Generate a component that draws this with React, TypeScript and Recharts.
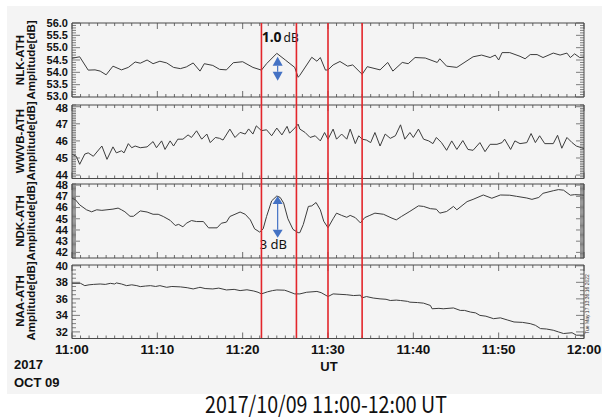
import React from 'react';
import { LineChart, Line, XAxis, YAxis, ReferenceLine } from 'recharts';

// NLK-ATH (minutes after 11:00 UT, amplitude dB)
const nlkMin = [0, 0.9, 1.9, 2.7, 3.3, 4.0, 4.8, 5.8, 6.6, 7.4, 8.0, 8.8, 9.5, 10.3, 11.1, 11.9, 12.7, 13.4, 14.2, 15.0, 15.5, 16.5, 17.3, 18.1, 18.9, 20.0, 21.2, 22.2, 22.8, 24.0, 25.0, 26.1, 26.5, 26.7, 28.1, 28.7, 29.1, 29.7, 30.0, 30.6, 31.4, 32.3, 32.9, 34.0, 34.6, 36.1, 37.0, 37.6, 38.7, 39.4, 40.2, 41.4, 42.8, 43.1, 43.9, 45.1, 47.0, 48.0, 49.0, 49.6, 50.0, 50.4, 51.3, 52.5, 53.1, 53.7, 54.5, 55.2, 56.4, 57.2, 58.0, 58.4, 58.9, 59.5, 60.0];
const nlkDb = [54.57, 54.63, 54.09, 54.1, 54.05, 53.9, 54.25, 54.1, 54.2, 54.42, 54.37, 54.5, 54.35, 54.45, 54.38, 54.2, 54.15, 54.22, 54.38, 54.05, 54.35, 54.28, 54.12, 54.1, 54.39, 54.43, 54.2, 54.09, 54.35, 54.77, 54.5, 54.2, 53.8, 53.88, 54.61, 54.45, 54.6, 54.09, 54.1, 54.3, 54.44, 54.25, 54.3, 53.92, 54.23, 54.1, 54.4, 54.05, 54.4, 54.35, 54.6, 54.58, 54.4, 54.55, 54.25, 54.2, 54.63, 54.7, 54.6, 54.7, 54.5, 54.8, 54.8, 54.65, 54.55, 54.72, 54.72, 54.6, 54.78, 54.7, 54.78, 54.6, 54.75, 54.6, 54.62];

// WWVB-ATH
const wwvbMin = [0, 0.5, 0.9, 1.5, 1.9, 2.5, 3.5, 4.1, 4.8, 5.2, 5.8, 6.1, 6.6, 7.0, 7.4, 8.0, 8.8, 9.5, 9.9, 10.5, 10.9, 11.5, 11.9, 12.4, 13.0, 13.6, 14.0, 14.6, 15.2, 15.8, 16.2, 16.8, 17.3, 17.7, 18.5, 19.1, 19.7, 20.3, 20.7, 21.2, 21.6, 22.2, 22.8, 23.4, 24.0, 24.6, 25.2, 25.5, 26.1, 26.5, 26.7, 27.3, 27.9, 28.5, 29.1, 29.6, 30.0, 30.6, 31.0, 31.6, 32.2, 32.6, 33.2, 33.6, 34.0, 34.5, 35.0, 35.5, 36.1, 36.7, 37.3, 37.9, 38.5, 39.0, 39.6, 40.0, 40.6, 41.2, 41.8, 42.3, 42.7, 43.3, 43.9, 44.5, 45.1, 45.8, 46.4, 47.0, 47.8, 48.4, 49.0, 49.8, 50.4, 50.7, 51.4, 51.9, 52.5, 53.3, 53.8, 54.3, 54.8, 55.4, 56.4, 56.9, 57.4, 58.0, 58.6, 59.1, 59.7, 60.0];
const wwvbDb = [45.22, 45.1, 44.63, 45.23, 45.3, 45.1, 45.7, 44.92, 45.65, 45.3, 45.42, 45.3, 45.84, 45.6, 45.7, 45.6, 45.65, 45.96, 45.6, 46.0, 45.5, 46.0, 45.7, 46.1, 46.1, 46.35, 46.2, 46.59, 46.1, 46.4, 45.9, 46.2, 46.15, 46.05, 46.69, 46.2, 46.5, 46.4, 46.7, 46.4, 46.88, 46.6, 46.65, 46.3, 46.75, 46.35, 46.85, 46.45, 46.75, 46.98, 46.69, 46.5, 46.2, 46.3, 46.0, 46.49, 46.1, 46.69, 46.1, 46.4, 46.1, 46.69, 45.84, 46.3, 46.1, 46.05, 45.9, 46.49, 45.7, 46.4, 46.15, 46.3, 46.94, 46.1, 46.49, 46.2, 46.69, 46.1, 46.0, 45.84, 46.2, 45.9, 45.45, 46.0, 45.5, 46.02, 45.5, 45.45, 45.9, 45.37, 45.8, 45.8, 45.9, 46.1, 45.5, 46.0, 45.84, 45.9, 46.43, 45.9, 46.3, 45.84, 45.84, 46.33, 45.57, 46.2, 45.9, 45.7, 45.6, 45.55];

// NDK-ATH
const ndkMin = [0, 0.4, 0.9, 1.7, 2.3, 2.9, 3.5, 4.1, 4.8, 5.4, 5.8, 6.2, 6.8, 7.2, 8.0, 8.8, 9.5, 10.1, 10.7, 11.5, 12.1, 12.5, 13.0, 13.4, 14.0, 14.6, 15.4, 16.0, 17.0, 17.5, 18.1, 18.5, 19.1, 19.7, 20.3, 20.9, 21.4, 22.0, 22.4, 22.8, 23.4, 24.0, 24.4, 24.8, 25.3, 25.9, 26.5, 26.7, 27.1, 27.7, 28.1, 28.6, 29.1, 29.5, 30.0, 30.6, 31.0, 31.6, 32.2, 32.6, 33.2, 33.8, 34.3, 34.9, 35.5, 36.5, 37.5, 38.0, 38.6, 39.6, 40.6, 41.2, 42.0, 42.7, 43.1, 43.9, 44.7, 45.1, 46.3, 47.0, 48.2, 49.2, 50.2, 51.3, 52.1, 53.3, 53.9, 54.7, 55.2, 56.4, 57.0, 57.6, 58.4, 58.9, 59.7, 60.0];
const ndkDb = [46.83, 46.7, 46.24, 45.8, 45.62, 45.8, 45.75, 45.8, 45.86, 45.95, 45.8, 45.62, 45.22, 45.22, 45.7, 45.6, 45.4, 45.4, 45.2, 44.86, 44.4, 44.5, 44.28, 44.6, 44.84, 44.75, 44.75, 44.19, 44.19, 44.6, 44.7, 45.2, 45.4, 45.6, 45.4, 44.9, 44.1, 43.81, 44.1, 45.2, 46.6, 47.03, 46.9, 46.4, 45.0, 44.05, 43.76, 43.76, 44.48, 46.1, 46.15, 46.45, 45.8, 44.78, 44.2, 45.0, 45.5, 45.3, 45.13, 45.3, 45.1, 44.63, 45.1, 45.3, 45.5, 45.4, 45.05, 44.9, 45.2, 45.66, 46.15, 46.1, 45.9, 45.85, 45.5, 45.65, 46.1, 45.8, 46.53, 46.73, 47.12, 46.83, 47.12, 47.1, 47.0, 46.85, 46.73, 46.9, 47.27, 47.5, 47.6, 47.55, 47.1, 47.15, 47.12, 47.1];

// NAA-ATH
const naaMin = [0, 1.0, 1.5, 2.0, 2.5, 3.3, 3.9, 4.5, 5.0, 5.2, 5.8, 6.4, 7.0, 7.6, 8.0, 8.6, 9.2, 9.8, 10.3, 11.1, 11.7, 12.7, 13.5, 14.2, 14.8, 15.0, 15.6, 16.5, 17.2, 18.1, 19.0, 19.7, 20.5, 21.3, 21.8, 22.2, 22.9, 23.5, 24.0, 24.9, 25.2, 26.1, 26.7, 27.5, 28.7, 29.2, 30.0, 30.6, 31.4, 32.2, 33.0, 33.8, 34.0, 34.5, 35.3, 36.1, 36.8, 37.3, 38.0, 38.5, 39.3, 39.6, 40.5, 41.2, 42.0, 42.2, 43.0, 43.5, 44.7, 45.5, 46.0, 46.7, 47.3, 47.8, 48.5, 49.4, 50.2, 51.0, 51.8, 52.8, 53.7, 54.3, 54.9, 55.6, 56.4, 57.0, 57.6, 58.6, 59.1, 60.0];
const naaDb = [37.88, 37.88, 37.6, 37.7, 37.75, 37.8, 37.75, 37.88, 37.8, 37.93, 37.8, 37.6, 37.7, 37.6, 37.48, 37.55, 37.6, 37.5, 37.6, 37.4, 37.5, 37.45, 37.35, 37.2, 37.35, 37.4, 37.25, 37.2, 37.3, 37.08, 37.15, 37.0, 37.1, 36.95, 36.8, 36.6, 36.85, 37.0, 37.08, 37.05, 36.95, 36.6, 36.6, 36.8, 36.9, 36.75, 36.28, 36.6, 36.55, 36.5, 36.4, 36.45, 36.12, 36.28, 36.1, 36.0, 35.95, 35.8, 35.85, 35.8, 35.7, 35.6, 35.55, 35.48, 35.2, 34.8, 34.85, 34.8, 34.9, 34.6, 34.6, 34.4, 34.3, 34.0, 33.9, 33.6, 33.7, 33.45, 33.2, 33.15, 33.0, 32.8, 32.4, 32.35, 32.2, 32.0, 31.8, 31.9, 31.6, 31.6];

const stationNames = ['NLK-ATH', 'WWVB-ATH', 'NDK-ATH', 'NAA-ATH'];
const xMajorMin = [0, 10, 20, 30, 40, 50, 60];
const xTickLabels = ['11:00', '11:10', '11:20', '11:30', '11:40', '11:50', '12:00'];
const eventMin = [22.2, 26.3, 30.0, 34.0];

const nlkTicks = [53, 53.5, 54, 54.5, 55, 55.5, 56];
const wwvbTicks = [44, 45, 46, 47, 48];
const ndkTicks = [42, 43, 44, 45, 46, 47, 48];
const naaTicks = [32, 34, 36, 38, 40];

const FRAME = '#4a4a4a';
const TRACE = '#3c3c3c';
const RED = '#e3262b';
const BLUE = '#4472c4';
const BG = '#f4f4f4';
const FONT = '"Liberation Sans", Arial, sans-serif';

const xAllTicks = Array.from({ length: 61 }, (_, i) => i);

function minorTicks(domain: [number, number], step: number) {
  const out: number[] = [];
  const start = Math.ceil(domain[0] / step - 1e-6);
  for (let k = start; k * step <= domain[1] + 1e-6; k++) out.push(Math.round(k * step * 100) / 100);
  return out;
}

const isIn = (list: number[], v: number) => list.some((m) => Math.abs(m - v) < 1e-6);

const xTick = (side: 'top' | 'bottom', showLabel: boolean) => (props: any) => {
  const { x, y, payload } = props;
  const idx = xMajorMin.indexOf(payload.value);
  const len = idx >= 0 ? 6 : 3;
  const dy = side === 'top' ? len : -len;
  return (
    <g>
      <line x1={x} y1={y} x2={x} y2={y + dy} stroke={FRAME} strokeWidth={0.8} />
      {showLabel && idx >= 0 && (
        <text x={x} y={y + 15} textAnchor="middle" fontFamily={FONT} fontWeight="bold" fontSize={13.5} fill="#111">
          {xTickLabels[idx]}
        </text>
      )}
    </g>
  );
};

// nudge = [shift of lowest label, shift of highest label] in px
const yTick = (side: 'left' | 'right', majors: number[], decimals: number, nudge: [number, number]) => (props: any) => {
  const { x, y, payload } = props;
  const major = isIn(majors, payload.value);
  const len = major ? 8 : 4;
  const dx = side === 'left' ? len : -len;
  let shift = 0;
  if (Math.abs(payload.value - majors[0]) < 1e-6) shift = nudge[0];
  if (Math.abs(payload.value - majors[majors.length - 1]) < 1e-6) shift = nudge[1];
  return (
    <g>
      <line x1={x} y1={y} x2={x + dx} y2={y} stroke={FRAME} strokeWidth={0.7} />
      {side === 'left' && major && (
        <text x={x - 4} y={y + 3.8 + shift} textAnchor="end" fontFamily={FONT} fontWeight="bold" fontSize={11} fill="#111">
          {payload.value.toFixed(decimals)}
        </text>
      )}
    </g>
  );
};

const arrowShape = (kind: 'nlk' | 'ndk') => (props: any) => {
  const { x1, y1, y2 } = props;
  const x = x1;
  const h = kind === 'nlk' ? 9 : 8;
  return (
    <g>
      <path d={`M${x},${y1} L${x - 5},${y1 + h} L${x + 5},${y1 + h} Z`} fill={BLUE} />
      <path d={`M${x},${y2} L${x - 5},${y2 - h} L${x + 5},${y2 - h} Z`} fill={BLUE} />
      <line x1={x} y1={y1 + h} x2={x} y2={y2 - h} stroke={BLUE} strokeWidth={1.2} />
      {kind === 'nlk' ? (
        <text x={x - 16} y={y1 - 15} fontFamily='"Noto Sans", sans-serif' fill="#111">
          <tspan fontWeight="bold" fontSize={14}>1.0</tspan>
          <tspan dx={2} fontSize={12}>dB</tspan>
        </text>
      ) : (
        <text x={x - 18} y={y2 + 11} fontFamily='"Noto Sans", sans-serif' fontSize={13} fill="#111">
          3 dB
        </text>
      )}
    </g>
  );
};

type PanelProps = {
  mins: number[];
  vals: number[];
  top: number;
  bottom: number;
  domain: [number, number];
  majors: number[];
  decimals: number;
  minorStep: number;
  nudge?: [number, number];
  xLabels?: boolean;
  children?: React.ReactNode;
};

function Panel({ mins, vals, top, bottom, domain, majors, decimals, minorStep, nudge = [0, 0], xLabels, children }: PanelProps) {
  const data = mins.map((m, i) => ({ m, v: vals[i] }));
  const padTop = 7;
  const padBottom = xLabels ? 26 : 7;
  const height = bottom - top + padTop + padBottom;
  const yTicks = minorTicks(domain, minorStep);
  const xCommon = {
    dataKey: 'm',
    type: 'number' as const,
    domain: [0, 60],
    ticks: xAllTicks,
    interval: 0 as const,
    height: 5,
    tickSize: 0,
    tickMargin: 0,
    tickLine: false,
    axisLine: { stroke: FRAME },
    allowDataOverflow: true,
  };
  const yCommon = {
    type: 'number' as const,
    domain,
    ticks: yTicks,
    interval: 0 as const,
    width: 10,
    tickSize: 0,
    tickMargin: 0,
    tickLine: false,
    axisLine: { stroke: FRAME },
    allowDataOverflow: true,
  };
  return (
    <div style={{ position: 'absolute', left: 0, top: top - padTop }}>
      <LineChart width={602} height={height} data={data} margin={{ top: 2, right: 8, bottom: padBottom - 5, left: 62 }}>
        <XAxis xAxisId="t" orientation="top" {...xCommon} tick={xTick('top', false)} />
        <XAxis xAxisId="b" orientation="bottom" {...xCommon} tick={xTick('bottom', !!xLabels)} />
        <YAxis yAxisId="l" orientation="left" {...yCommon} tick={yTick('left', majors, decimals, nudge)} />
        <YAxis yAxisId="r" orientation="right" {...yCommon} tick={yTick('right', majors, decimals, nudge)} />
        <Line
          xAxisId="b"
          yAxisId="l"
          dataKey="v"
          type="linear"
          dot={false}
          stroke={TRACE}
          strokeWidth={1}
          isAnimationActive={false}
        />
        {children}
      </LineChart>
    </div>
  );
}

const panelCenters = [60, 141, 221, 301];

export default function App() {
  const eventRows = eventMin.map((m) => ({ m, v: 0 }));
  return (
    <div style={{ position: 'absolute', left: 0, top: 0, width: 602, height: 420, background: '#fff', overflow: 'hidden' }}>
      <svg width={602} height={420} style={{ position: 'absolute', left: 0, top: 0 }}>
        <rect x={7} y={6} width={595} height={388} fill={BG} />
        {stationNames.map((name, i) => (
          <g key={name} fontFamily={FONT} fontWeight="bold" fontSize={11.5} fill="#111" textAnchor="middle">
            <text transform={`translate(23.5, ${panelCenters[i]}) rotate(-90)`}>{name}</text>
            <text transform={`translate(35, ${panelCenters[i]}) rotate(-90)`}>Amplitude[dB]</text>
          </g>
        ))}
        <text x={14} y={369} fontFamily={FONT} fontWeight="bold" fontSize={13} fill="#111">2017</text>
        <text x={14} y={387} fontFamily={FONT} fontWeight="bold" fontSize={13} fill="#111">OCT 09</text>
        <text x={329} y={371} textAnchor="middle" fontFamily={FONT} fontWeight="bold" fontSize={13} fill="#111">UT</text>
        <text
          transform="translate(589, 304) rotate(-90)"
          textAnchor="middle"
          fontFamily={FONT}
          fontSize={5}
          fill="#333"
        >
          Tue May 17 13:36:16 2022
        </text>
        <text
          x={205}
          y={413}
          textLength={242}
          lengthAdjust="spacingAndGlyphs"
          fontFamily='"Noto Sans CJK JP", "Noto Sans", sans-serif'
          fontSize={23}
          fill="#111"
        >
          2017/10/09 11:00-12:00 UT
        </text>
      </svg>

      <Panel mins={nlkMin} vals={nlkDb} top={23} bottom={97} domain={[53, 56]} majors={nlkTicks} decimals={1} minorStep={0.1} nudge={[-1, 0]}>
        <ReferenceLine
          xAxisId="b"
          yAxisId="l"
          segment={[{ x: 24.1, y: 54.63 }, { x: 24.1, y: 53.66 }]}
          shape={arrowShape('nlk')}
        />
      </Panel>
      <Panel mins={wwvbMin} vals={wwvbDb} top={104.5} bottom={178} domain={[43.8, 48.1]} majors={wwvbTicks} decimals={0} minorStep={0.1} nudge={[0, 1.5]} />
      <Panel mins={ndkMin} vals={ndkDb} top={184} bottom={258} domain={[41.5, 48.1]} majors={ndkTicks} decimals={0} minorStep={0.1}>
        <ReferenceLine
          xAxisId="b"
          yAxisId="l"
          segment={[{ x: 24.1, y: 47.03 }, { x: 24.1, y: 43.3 }]}
          shape={arrowShape('ndk')}
        />
      </Panel>
      <Panel mins={naaMin} vals={naaDb} top={264.5} bottom={338} domain={[31.2, 40.1]} majors={naaTicks} decimals={0} minorStep={0.5} xLabels />

      <div style={{ position: 'absolute', left: 0, top: 23, pointerEvents: 'none' }}>
        <LineChart width={602} height={315} data={eventRows} margin={{ top: 0, right: 18, bottom: 0, left: 72 }}>
          <XAxis dataKey="m" type="number" domain={[0, 60]} hide allowDataOverflow />
          <YAxis type="number" domain={[0, 1]} hide />
          <Line dataKey="v" stroke="none" dot={false} isAnimationActive={false} />
          {eventMin.map((m) => (
            <ReferenceLine key={m} x={m} stroke={RED} strokeWidth={1.6} />
          ))}
        </LineChart>
      </div>
    </div>
  );
}
